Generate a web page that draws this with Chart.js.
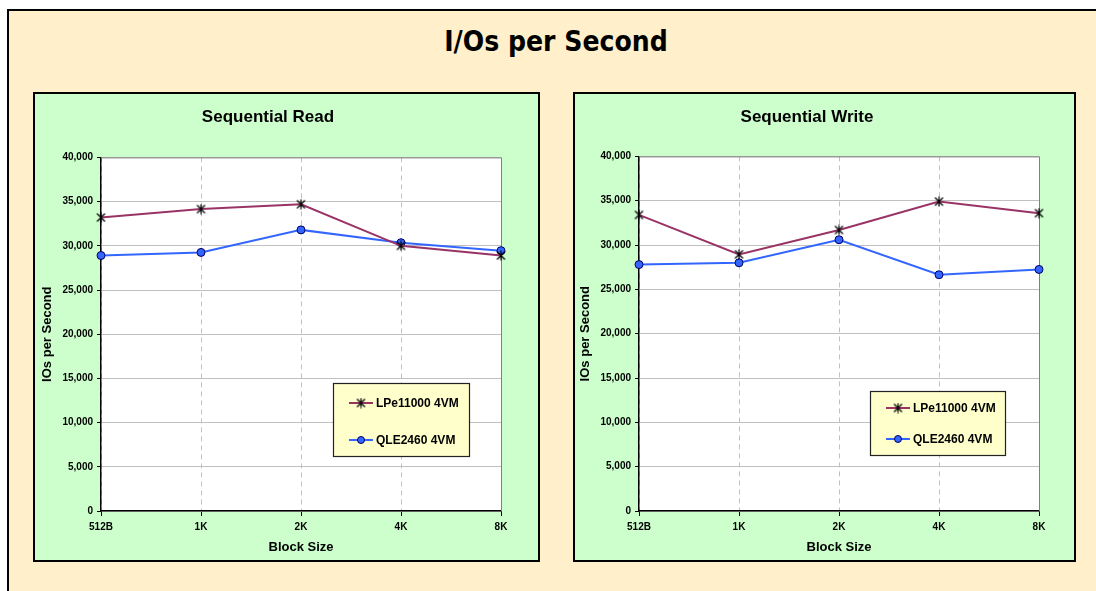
<!DOCTYPE html>
<html>
<head>
<meta charset="utf-8">
<script src="https://cdn.jsdelivr.net/npm/chart.js@4.4.1/dist/chart.umd.min.js"></script>
<style>
  body { margin: 0; background: #fff; width: 1096px; height: 591px; overflow: hidden; position: relative; }
  .frame { position: absolute; left: 7px; top: 9px; width: 1100px; height: 600px;
           border-left: 2px solid #000; border-top: 2px solid #000; background: #FFEFCB; }
  .title { position: absolute; left: 0; top: 25px; width: 1112px; text-align: center;
           font: bold 28px "DejaVu Sans Condensed", "DejaVu Sans", sans-serif; color: #000; }
  .box { position: absolute; top: 92px; border: 2px solid #000; background: #CCFFCC; }
  .box canvas { display: block; }
</style>
</head>
<body>
<div class="frame"></div>
<div class="title">I/Os per Second</div>
<div class="box" style="left:33px;"><canvas id="readChart" width="503" height="466"></canvas></div>
<div class="box" style="left:573px;"><canvas id="writeChart" width="499" height="466"></canvas></div>

<script>
const blockSizes = ["512B", "1K", "2K", "4K", "8K"];
const seriesNames = ["LPe11000 4VM", "QLE2460 4VM"];

const readLPe = [33200, 34150, 34700, 30000, 28900];
const readQLE = [28900, 29250, 31800, 30350, 29450];

const writeLPe = [33400, 28950, 31700, 34900, 33600];
const writeQLE = [27800, 28000, 30600, 26650, 27250];

const yMin = 0, yMax = 40000, yStep = 5000;

Chart.defaults.font.family = "'Liberation Sans', Arial, sans-serif";
Chart.defaults.color = "#000";

// asterisk marker (x with a vertical stroke), like the Excel star
const star = document.createElement("canvas");
star.width = 11; star.height = 11;
(() => {
  const c = star.getContext("2d");
  c.strokeStyle = "#000";
  c.lineWidth = 1.2;
  c.beginPath();
  c.moveTo(1.5, 1.5); c.lineTo(9.5, 9.5);
  c.moveTo(9.5, 1.5); c.lineTo(1.5, 9.5);
  c.moveTo(5.5, 0.5); c.lineTo(5.5, 10.5);
  c.stroke();
})();

// white plot area, grey top/right border, and a boxed legend inside the plot
const plotDecor = {
  id: "plotDecor",
  beforeDraw(chart) {
    const { ctx, chartArea: a } = chart;
    ctx.save();
    ctx.fillStyle = "#fff";
    ctx.fillRect(a.left, a.top, a.right - a.left, a.bottom - a.top);
    ctx.restore();
  },
  beforeDatasetsDraw(chart) {
    const { ctx, chartArea: a } = chart;
    ctx.save();
    ctx.strokeStyle = "#808080";
    ctx.lineWidth = 1;
    ctx.beginPath();
    ctx.moveTo(a.left, a.top + 0.5);
    ctx.lineTo(a.right + 0.5, a.top + 0.5);
    ctx.lineTo(a.right + 0.5, a.bottom);
    ctx.stroke();
    ctx.restore();
  },
  afterDraw(chart, args, opts) {
    const { ctx } = chart;
    const b = opts.box;
    ctx.save();
    ctx.fillStyle = "#FFFFCC";
    ctx.fillRect(b.x, b.y, b.w, b.h);
    ctx.strokeStyle = "#222";
    ctx.lineWidth = 1.2;
    ctx.strokeRect(b.x + 0.5, b.y + 0.5, b.w, b.h);
    ctx.font = "bold 12px 'Liberation Sans', Arial, sans-serif";
    ctx.textBaseline = "middle";
    chart.data.datasets.forEach((ds, i) => {
      const y = b.y + b.rows[i];
      const x0 = b.x + 16;
      ctx.strokeStyle = ds.borderColor;
      ctx.lineWidth = 2;
      ctx.beginPath();
      ctx.moveTo(x0, y); ctx.lineTo(x0 + 24, y);
      ctx.stroke();
      if (ds.pointStyle === "circle") {
        ctx.beginPath();
        ctx.arc(x0 + 12, y, 3.5, 0, Math.PI * 2);
        ctx.fillStyle = ds.pointBackgroundColor;
        ctx.fill();
        ctx.strokeStyle = ds.pointBorderColor;
        ctx.lineWidth = 1;
        ctx.stroke();
      } else {
        ctx.drawImage(star, x0 + 12 - 5.5, y - 5.5);
      }
      ctx.fillStyle = "#000";
      ctx.fillText(ds.label, x0 + 27, y + 0.5);
    });
    ctx.restore();
  }
};

function makeChart(id, title, lpe, qle, s) {
  const ctx = document.getElementById(id).getContext("2d");
  return new Chart(ctx, {
    type: "line",
    data: {
      labels: blockSizes,
      datasets: [
        {
          label: seriesNames[0], data: lpe,
          borderColor: "#993366", borderWidth: 2,
          pointStyle: star, pointRadius: 5, clip: false
        },
        {
          label: seriesNames[1], data: qle,
          borderColor: "#3366FF", borderWidth: 2,
          pointStyle: "circle", pointRadius: 4,
          pointBackgroundColor: "#3366FF", pointBorderColor: "#000066", pointBorderWidth: 1,
          clip: false
        }
      ]
    },
    options: {
      responsive: false,
      animation: false,
      layout: { padding: { right: s.padRight } },
      plugins: {
        legend: { display: false },
        tooltip: { enabled: false },
        title: {
          display: true, text: title,
          font: { size: 17, weight: "bold" },
          padding: { top: 13, bottom: s.titleBottom }
        },
        plotDecor: { box: s.legend }
      },
      scales: {
        x: {
          offset: false,
          grid: { color: "#C0C0C0", lineWidth: 1, tickLength: 5, tickColor: "#000", tickBorderDash: [] },
          border: { color: "#000", width: 1.5, dash: [5, 4] },
          ticks: { font: { size: 10, weight: "bold" }, padding: 5, maxRotation: 0 },
          title: { display: true, text: "Block Size", font: { size: 13, weight: "bold" }, padding: { top: 0, bottom: 5 } },
          afterFit: sc => { sc.height = 49; }
        },
        y: {
          min: yMin, max: yMax,
          grid: { color: "#C0C0C0", lineWidth: 1, tickLength: 4, tickColor: "#000" },
          border: { color: "#000", width: 1.5 },
          ticks: { stepSize: yStep, font: { size: 10, weight: "bold" }, padding: 4,
                   callback: v => v.toLocaleString("en-US") },
          title: { display: true, text: "IOs per Second", font: { size: 13, weight: "bold" }, padding: { top: s.yTitlePad, bottom: 0 } },
          afterFit: sc => { sc.width = s.yWidth; }
        }
      }
    },
    plugins: [plotDecor]
  });
}

makeChart("readChart", "Sequential Read", readLPe, readQLE, {
  padRight: 37, titleBottom: 30, yWidth: 66, yTitlePad: 5,
  legend: { x: 298, y: 289, w: 136, h: 73, rows: [20, 57] }
});
makeChart("writeChart", "Sequential Write", writeLPe, writeQLE, {
  padRight: 35, titleBottom: 29, yWidth: 64, yTitlePad: 3,
  legend: { x: 295, y: 297, w: 135, h: 64, rows: [17, 48] }
});
</script>
</body>
</html>
